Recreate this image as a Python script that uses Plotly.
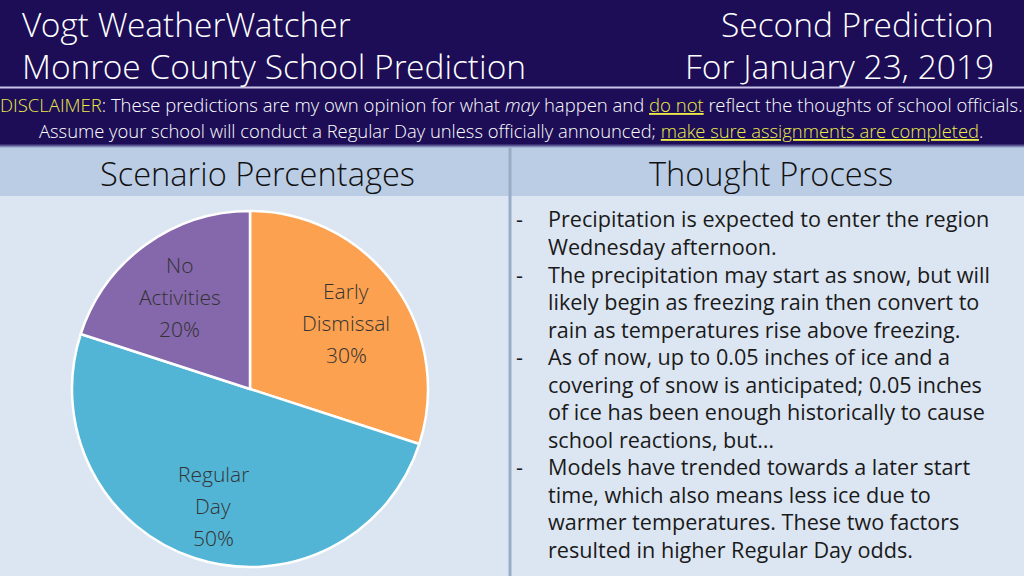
import math
import plotly.graph_objects as go

# ---- data ----
scenario_labels = ["Early Dismissal", "Regular Day", "No Activities"]
scenario_lines = [["Early", "Dismissal"], ["Regular", "Day"], ["No", "Activities"]]
scenario_values = [30, 50, 20]
scenario_colors = ["#FBA150", "#52B5D5", "#8567AC"]

title_left = ["Vogt WeatherWatcher", "Monroe County School Prediction"]
title_right = ["Second Prediction", "For January 23, 2019"]
section_titles = ["Scenario Percentages", "Thought Process"]

thought_lines = [
    ("-", "Precipitation is expected to enter the region"),
    ("", "Wednesday afternoon."),
    ("-", "The precipitation may start as snow, but will"),
    ("", "likely begin as freezing rain then convert to"),
    ("", "rain as temperatures rise above freezing."),
    ("-", "As of now, up to 0.05 inches of ice and a"),
    ("", "covering of snow is anticipated; 0.05 inches"),
    ("", "of ice has been enough historically to cause"),
    ("", "school reactions, but…"),
    ("-", "Models have trended towards a later start"),
    ("", "time, which also means less ice due to"),
    ("", "warmer temperatures. These two factors"),
    ("", "resulted in higher Regular Day odds."),
]

W, H = 1024, 576
FONT = "Open Sans"
LIGHT = "Open Sans Light, Open Sans"
NAVY = "#1C0D56"
YEL = "#ECEB4A"


def py(y):
    return 1 - y / H


def px(x):
    return x / W


fig = go.Figure()

# pie geometry
cx, cy, r = 250, 389, 178
fig.add_trace(go.Pie(
    labels=scenario_labels,
    values=scenario_values,
    sort=False,
    direction="clockwise",
    rotation=0,
    marker=dict(colors=scenario_colors, line=dict(color="white", width=2.5)),
    textinfo="none",
    hoverinfo="label+percent",
    showlegend=False,
    domain=dict(x=[px(cx - r), px(cx + r)], y=[py(cy + r), py(cy - r)]),
))

shapes = []
# backgrounds
shapes.append(dict(type="rect", xref="paper", yref="paper", x0=0, x1=1, y0=0, y1=1,
                   fillcolor="#DCE6F2", line_width=0, layer="below"))
shapes.append(dict(type="rect", xref="paper", yref="paper", x0=0, x1=1, y0=py(196), y1=py(144),
                   fillcolor="#BACDE5", line_width=0, layer="below"))
shapes.append(dict(type="rect", xref="paper", yref="paper", x0=0, x1=1, y0=py(144), y1=1,
                   fillcolor=NAVY, line_width=0, layer="below"))
# soft gradient at bottom of navy
grad = ["#3A2F72", "#5A5590", "#8089B4", "#A3B3D4"]
for i, c in enumerate(grad):
    shapes.append(dict(type="rect", xref="paper", yref="paper", x0=0, x1=1,
                       y0=py(144 + i + 1), y1=py(144 + i), fillcolor=c, line_width=0, layer="below"))
# thin line in header
shapes.append(dict(type="line", xref="paper", yref="paper", x0=0, x1=1, y0=py(87.5), y1=py(87.5),
                   line=dict(color="#C9C3EA", width=2), layer="below"))
# divider
shapes.append(dict(type="line", xref="paper", yref="paper", x0=px(510), x1=px(510), y0=0, y1=py(148),
                   line=dict(color="#98ACC6", width=3), layer="below"))

ann = []


def text(x, y, s, size, color="#FFFFFF", xanchor="left", weight=300, family=LIGHT):
    ann.append(dict(x=px(x), y=py(y), xref="paper", yref="paper", text=s, showarrow=False,
                    xanchor=xanchor, yanchor="middle",
                    font=dict(family=family, size=size, color=color, weight=weight)))


# header
text(20, 23.5, title_left[0], 33.5)
text(20, 66, title_left[1], 33.5)
text(996, 23.5, title_right[0], 33.5, xanchor="right")
text(996, 66, title_right[1], 33.5, xanchor="right")

disc1 = (f"<span style='color:{YEL}'>DISCLAIMER</span>: These predictions are my own opinion for what "
         f"<i>may</i> happen and <span style='color:{YEL}'><u>do not</u></span> reflect the thoughts of school officials.")
disc2 = (f"Assume your school will conduct a Regular Day unless officially announced; "
         f"<span style='color:{YEL}'><u>make sure assignments are completed</u></span>.")
text(511, 104, disc1, 18.5, xanchor="center")
text(511, 130, disc2, 18.4, xanchor="center")

# section titles
text(257, 173, section_titles[0], 32.6, color="#111111", xanchor="center")
text(771, 173, section_titles[1], 32.6, color="#111111", xanchor="center")

# thought process
y0, dy = 219, 27.5
for i, (b, s) in enumerate(thought_lines):
    y = y0 + i * dy
    if b:
        text(514, y, b, 21.6, color="#1A1A1A", weight=400, family=FONT)
    text(546, y, s, 21.6, color="#1A1A1A", weight=400, family=FONT)

# pie labels computed from the data
total = sum(scenario_values)
start = 0.0
for lines, v in zip(scenario_lines, scenario_values):
    mid = (start + v / 2) / total * 2 * math.pi
    start += v
    rr = 0.67 * r
    lx = cx + rr * math.sin(mid)
    ly = cy - rr * math.cos(mid) + 4
    allines = lines + [f"{round(v / total * 100)}%"]
    n = len(allines)
    for j, s in enumerate(allines):
        text(lx, ly + (j - (n - 1) / 2) * 32, s, 21, color="#333333", xanchor="center")

fig.update_layout(
    width=W, height=H, margin=dict(l=0, r=0, t=0, b=0),
    paper_bgcolor="#DCE6F2", plot_bgcolor="#DCE6F2",
    shapes=shapes, annotations=ann,
    xaxis=dict(visible=False), yaxis=dict(visible=False),
)
fig.write_html("out.html")
